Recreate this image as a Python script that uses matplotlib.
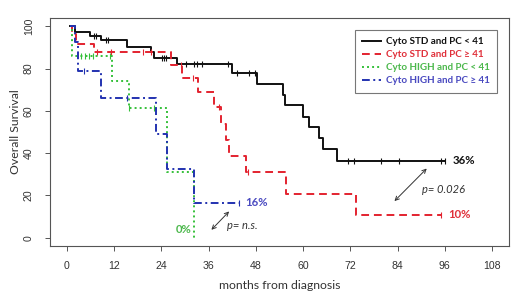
import numpy as np
import matplotlib
matplotlib.use("Agg")
import matplotlib.pyplot as plt

# step curves: times where survival changes, and the level after each step
std_low_t = [0.9, 2.0, 5.8, 8.6, 15.3, 21.3, 22.1, 28.0, 42.0, 48.4, 54.8, 55.5, 59.9, 61.6, 64.1, 65.1, 68.5, 96.0]
std_low_s = [100, 97.5, 95.6, 93.6, 90.4, 88.0, 85.0, 82.2, 78.0, 72.8, 67.6, 62.6, 57.3, 52.2, 47.0, 41.8, 36.5, 36.5]
std_low_c = [6.9, 7.4, 9.8, 10.5, 24.2, 24.7, 25.2, 30.2, 32.3, 33.1, 34.4, 40.8, 43.3, 46.3, 47.8, 71.3, 72.8, 79.8, 84.3, 95.0, 96.0]

std_high_t = [0.9, 1.3, 2.3, 7.0, 26.4, 29.3, 33.2, 37.4, 39.1, 40.4, 41.2, 45.5, 55.6, 73.4, 95.1]
std_high_s = [100, 96.5, 91.5, 87.7, 81.6, 75.5, 69.0, 61.8, 54.0, 46.2, 38.7, 31.1, 20.8, 10.8, 10.8]
std_high_c = [7.7, 11.1, 19.2, 21.3, 29.0, 31.9, 38.7, 46.1, 95.1]

high_low_t = [0.9, 1.3, 11.5, 15.8, 25.4, 32.3]
high_low_s = [100, 86.0, 74.0, 61.5, 31.1, 0.0]
high_low_c = [3.6, 4.6, 5.6, 6.6, 11.0, 15.8, 22.1]

high_high_t = [0.9, 2.0, 2.9, 8.6, 22.6, 25.3, 32.3, 43.8]
high_high_s = [100, 92.5, 79.0, 66.0, 49.2, 32.7, 16.3, 16.3]
high_high_c = [4.3, 15.3, 43.8]

labels = ["Cyto STD and PC < 41", "Cyto STD and PC \u2265 41",
          "Cyto HIGH and PC < 41", "Cyto HIGH and PC \u2265 41"]
end_pct = ["36%", "10%", "0%", "16%"]

colors = ["#111111", "#e3232f", "#35c03a", "#2232b0"]
text_colors = ["#111111", "#e0303a", "#4cb84c", "#4a4ac0"]
dashes = [None, (4, 2.5), (1, 1.6), (4, 1.8, 1, 1.8)]


def level_at(t, s, x):
    idx = np.searchsorted(np.asarray(t), np.asarray(x), side="right") - 1
    return np.asarray(s)[idx]


fig = plt.figure(figsize=(5.2, 2.99), dpi=100)
ax = fig.add_axes([0.096, 0.177, 0.883, 0.763])

curves = [(std_low_t, std_low_s, std_low_c),
          (std_high_t, std_high_s, std_high_c),
          (high_low_t, high_low_s, high_low_c),
          (high_high_t, high_high_s, high_high_c)]

for (t, s, c), col, lab, d in zip(curves, colors, labels, dashes):
    line, = ax.step(t, s, where="post", color=col, lw=1.4, label=lab)
    if d is not None:
        line.set_dashes(d)
    ax.plot(c, level_at(t, s, c), ls="none", marker="|", ms=5, mew=0.8, color=col)

ax.set_xlim(-4.32, 112.32)
ax.set_ylim(-4, 104)
ax.set_xticks(np.arange(0, 109, 12))
ax.set_yticks(np.arange(0, 101, 20))
for lbl in ax.get_yticklabels():
    lbl.set_rotation(90)
    lbl.set_va("center")
ax.tick_params(labelsize=7.6, length=3.5, width=0.7, color="#555555",
               labelcolor="#333333")
ax.tick_params(axis="x", pad=7)
ax.tick_params(axis="y", pad=8)
for lbl in ax.get_xticklabels() + ax.get_yticklabels():
    lbl.set_family("Liberation Sans")
for sp in ax.spines.values():
    sp.set_color("#555555")
    sp.set_linewidth(0.8)

ax.set_xlabel("months from diagnosis", family="Lato", fontsize=8.8, color="#333333", labelpad=7)
ax.set_ylabel("Overall Survival", family="Lato", fontsize=8.8, color="#333333", labelpad=2)

leg = ax.legend(loc="upper right", bbox_to_anchor=(0.981, 0.96), fancybox=False,
                edgecolor="#555555", handlelength=1.9, handletextpad=0.5,
                labelspacing=0.4, borderpad=0.75, borderaxespad=0.3,
                prop={"family": "Lato", "weight": "bold", "size": 7.1})
leg.get_frame().set_linewidth(0.8)
for txt, col in zip(leg.get_texts(), text_colors):
    txt.set_color(col)

# end-of-follow-up percentages
ax.text(98.0, 36.7, end_pct[0], color=text_colors[0], family="Lato", weight="bold",
        fontsize=8.2, va="center")
ax.text(96.8, 10.8, end_pct[1], color=text_colors[1], family="Lato", weight="bold",
        fontsize=8.2, va="center")
ax.text(31.8, 4.0, end_pct[2], color=text_colors[2], family="Lato", weight="bold",
        fontsize=8.2, va="center", ha="right")
ax.text(45.3, 16.6, end_pct[3], color=text_colors[3], family="Lato", weight="bold",
        fontsize=8.2, va="center")

# p-values with double arrows
ax.annotate("", xy=(91.4, 32.7), xytext=(83.2, 17.3),
            arrowprops=dict(arrowstyle="<->", color="#333333", lw=0.7,
                            shrinkA=0, shrinkB=0, mutation_scale=7))
ax.text(90.3, 22.7, "p= 0.026", family="Lato", style="italic", fontsize=8.0,
        color="#333333", va="center")
ax.annotate("", xy=(41.2, 12.4), xytext=(36.7, 3.7),
            arrowprops=dict(arrowstyle="<->", color="#333333", lw=0.7,
                            shrinkA=0, shrinkB=0, mutation_scale=7))
ax.text(40.6, 5.8, "p= n.s.", family="Lato", style="italic", fontsize=8.0,
        color="#333333", va="center")

fig.savefig("out.png", dpi=100)
